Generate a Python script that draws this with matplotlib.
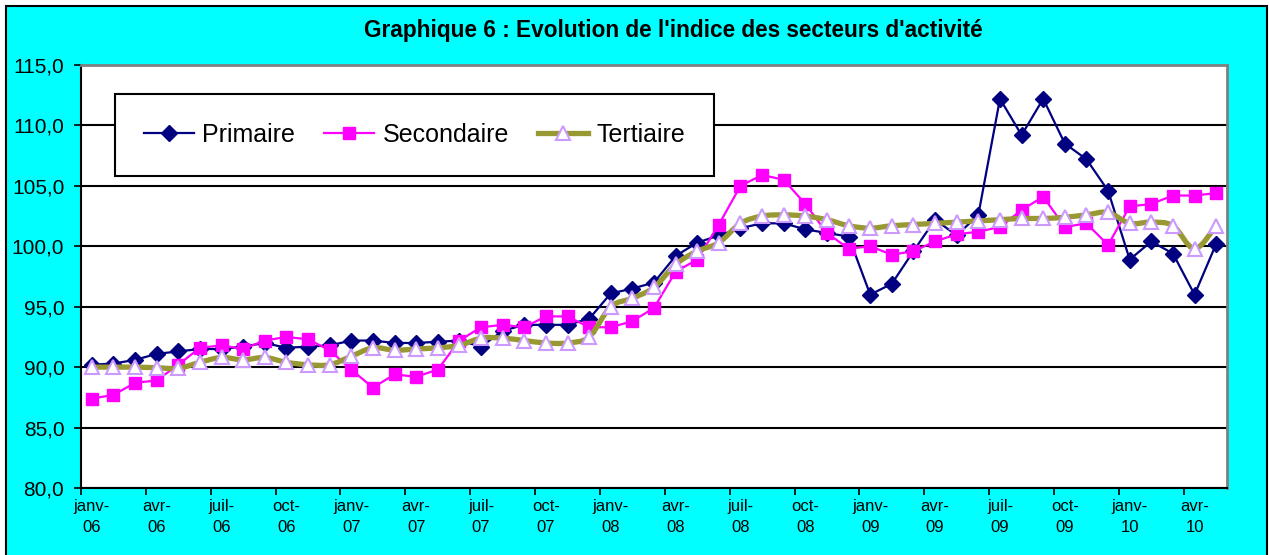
import matplotlib.pyplot as plt
import numpy as np
from matplotlib.path import Path
from matplotlib.patches import PathPatch, Rectangle
from matplotlib.lines import Line2D
from matplotlib.ticker import FuncFormatter, FixedLocator

# --- données (indices mensuels, janv-06 -> mai-10) ---
mois = ['janv', 'févr', 'mars', 'avr', 'mai', 'juin',
        'juil', 'août', 'sept', 'oct', 'nov', 'déc']
annees = ['06', '07', '08', '09', '10']
etiquettes = [m + '-\n' + a for a in annees for m in mois][:53]

primaire = [90.2, 90.3, 90.6, 91.1, 91.3, 91.5, 91.5, 91.7, 92.0, 91.6,
            91.7, 91.8, 92.2, 92.2, 92.0, 92.0, 92.1, 92.2, 91.7, 93.0,
            93.5, 93.5, 93.5, 94.0, 96.1, 96.5, 97.0, 99.2, 100.3, 100.9,
            101.5, 101.9, 101.9, 101.4, 101.1, 100.8, 96.0, 96.9, 99.6, 102.2,
            100.9, 102.6, 112.2, 109.2, 112.2, 108.5, 107.2, 104.6, 98.9, 100.4,
            99.4, 96.0, 100.2]

secondaire = [87.4, 87.7, 88.7, 88.9, 90.2, 91.6, 91.8, 91.5, 92.2, 92.5,
              92.3, 91.4, 89.8, 88.3, 89.4, 89.2, 89.8, 92.2, 93.3, 93.5,
              93.3, 94.2, 94.2, 93.3, 93.3, 93.8, 94.9, 97.9, 98.9, 101.8,
              105.0, 105.9, 105.5, 103.5, 101.1, 99.8, 100.0, 99.3, 99.6, 100.4,
              101.0, 101.2, 101.6, 103.0, 104.1, 101.6, 101.9, 100.1, 103.3, 103.5,
              104.2, 104.2, 104.4]

tertiaire = [90.0, 90.0, 90.0, 89.95, 89.9, 90.4, 90.8, 90.6, 90.8, 90.4,
             90.2, 90.2, 90.9, 91.6, 91.4, 91.5, 91.6, 91.8, 92.4, 92.4,
             92.2, 92.0, 92.0, 92.5, 95.0, 95.7, 96.6, 98.5, 99.6, 100.3,
             101.9, 102.5, 102.6, 102.5, 102.2, 101.7, 101.5, 101.7, 101.8, 101.9,
             102.0, 102.1, 102.2, 102.3, 102.3, 102.4, 102.6, 102.8, 101.9, 102.0,
             101.7, 99.8, 101.7]

plt.rcParams['font.family'] = ['Liberation Sans', 'DejaVu Sans']
etroite = ['Liberation Sans Narrow', 'DejaVu Sans Condensed', 'Liberation Sans']

c_prim = '#000080'
c_sec = '#FF00FF'
c_ter = '#999933'
c_tri = '#CC99FF'


def courbe_lissee(x, y):
    # ligne lissée façon Excel (Catmull-Rom -> Bézier)
    pts = np.column_stack([x, y]).astype(float)
    p = np.vstack([pts[0], pts, pts[-1]])
    verts = [pts[0]]
    codes = [Path.MOVETO]
    for k in range(1, len(p) - 2):
        c1 = p[k] + (p[k + 1] - p[k - 1]) / 6
        c2 = p[k + 1] - (p[k + 2] - p[k]) / 6
        verts += [c1, c2, p[k + 1]]
        codes += [Path.CURVE4] * 3
    return Path(verts, codes)


fig = plt.figure(figsize=(12.69, 5.55), dpi=100)
fig.patch.set_facecolor('white')
fond = Rectangle((6 / 1269, -0.02), 1261 / 1269, 1 - 6 / 555 + 0.02,
                 transform=fig.transFigure, facecolor='#00FFFF',
                 edgecolor='black', lw=1.5, zorder=-10)
fig.patches.append(fond)

ax = fig.add_axes([81 / 1269, 1 - 488 / 555, 1146 / 1269, 423 / 555])
x = np.arange(len(primaire))

ax.plot(x, primaire, color=c_prim, lw=1.6, marker='D', ms=8.5,
        mfc=c_prim, mec=c_prim, zorder=3)
ax.plot(x, secondaire, color=c_sec, lw=1.6, marker='s', ms=8,
        mfc=c_sec, mec=c_sec, zorder=4)
ax.add_patch(PathPatch(courbe_lissee(x, tertiaire), fill=False,
                       edgecolor=c_ter, lw=3.8, zorder=5))
ax.plot(x, tertiaire, ls='none', marker='^', ms=10, mfc='white',
        mec=c_tri, mew=1.5, zorder=6)

ax.set_xlim(-0.5, len(x) - 0.5)
ax.set_ylim(80, 115)
ax.set_yticks(np.arange(80, 116, 5))
ax.yaxis.set_major_formatter(FuncFormatter(lambda v, p: f'{v:.1f}'.replace('.', ',')))
ax.tick_params(axis='y', labelsize=15, length=5, width=1.2, pad=7)
ax.grid(axis='y', color='black', lw=1.5)
ax.set_axisbelow(True)

ax.set_xticks(x[::3])
ax.set_xticklabels(etiquettes[::3], family=etroite, fontsize=12, linespacing=1.5)
ax.xaxis.set_minor_locator(FixedLocator(np.arange(-0.5, len(x) - 1, 3)))
ax.tick_params(axis='x', which='major', length=0, pad=8)
ax.tick_params(axis='x', which='minor', length=5, width=1.2)

for s in ['top', 'right']:
    ax.spines[s].set_color('#808080')
    ax.spines[s].set_linewidth(2)
for s in ['left', 'bottom']:
    ax.spines[s].set_color('black')
    ax.spines[s].set_linewidth(1.5)

poignees = [
    Line2D([], [], color=c_prim, lw=1.6, marker='D', ms=8.5, mfc=c_prim, mec=c_prim),
    Line2D([], [], color=c_sec, lw=1.6, marker='s', ms=8, mfc=c_sec, mec=c_sec),
    Line2D([], [], color=c_ter, lw=3.8, marker='^', ms=10, mfc='white', mec=c_tri, mew=1.5),
]
leg = ax.legend(poignees, ['Primaire', 'Secondaire', 'Tertiaire'], ncol=3,
                loc='center', bbox_to_anchor=(0.291, 0.835), fontsize=18,
                frameon=True, fancybox=False, edgecolor='black', framealpha=1,
                handlelength=2.0, handletextpad=0.35, columnspacing=1.15,
                borderpad=1.15)
leg.get_frame().set_linewidth(1.5)

fig.text(673 / 1269, 1 - 30 / 555,
         "Graphique 6 : Evolution de l'indice des secteurs d'activité",
         ha='center', va='center', fontsize=16.3, fontweight='bold')

fig.savefig('out.png', dpi=100)
